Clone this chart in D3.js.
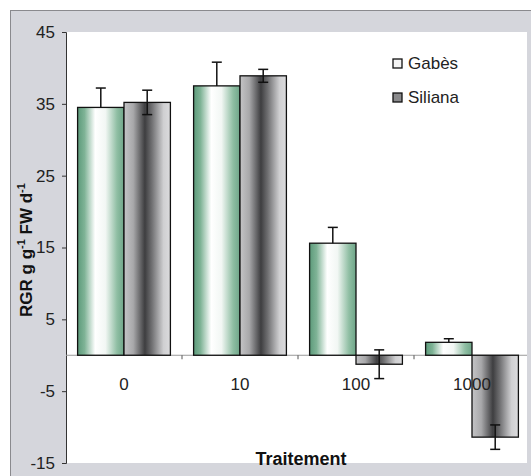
<!DOCTYPE html>
<html><head><meta charset="utf-8">
<script src="https://cdn.jsdelivr.net/npm/d3@7"></script>
<style>body{margin:0;background:#fff}svg{display:block}</style>
</head><body>
<script>
const categories = ["0", "10", "100", "1000"];
const seriesNames = ["Gabès", "Siliana"];
const gabes = [34.5, 37.5, 15.6, 1.8];
const gabesErr = [2.7, 3.3, 2.2, 0.5];
const siliana = [35.2, 38.9, -1.25, -11.4];
const silianaErr = [1.7, 0.9, 2.0, 1.7];
const yTicks = [45, 35, 25, 15, 5, -5, -15];

const W = 531, H = 476;
const plot = {l: 66, r: 527, t: 32, b: 463};
const svg = d3.select("body").append("svg").attr("width", W).attr("height", H);
const defs = svg.append("defs");
const gG = defs.append("linearGradient").attr("id", "gGab").attr("x1", "0").attr("x2", "1").attr("y1", "0").attr("y2", "0");
[[0, "#5c9a7a"], [0.15, "#7fb396"], [0.38, "#ffffff"], [0.6, "#f2f7f4"], [0.85, "#8fbea3"], [1, "#6ea588"]].forEach(s => gG.append("stop").attr("offset", s[0]).attr("stop-color", s[1]));
const gS = defs.append("linearGradient").attr("id", "gSil").attr("x1", "0").attr("x2", "1").attr("y1", "0").attr("y2", "0");
[[0, "#c4c4c6"], [0.2, "#a8a8aa"], [0.45, "#3e3e40"], [0.6, "#707072"], [0.85, "#cfcfd1"], [1, "#dcdcde"]].forEach(s => gS.append("stop").attr("offset", s[0]).attr("stop-color", s[1]));

// outer panel
svg.append("rect").attr("x", 10).attr("y", 10).attr("width", W - 10).attr("height", H - 10).attr("fill", "#d5d6dc");
svg.append("line").attr("x1", 10).attr("x2", W).attr("y1", 10.5).attr("y2", 10.5).attr("stroke", "#8a8a8e");
svg.append("line").attr("x1", 10.5).attr("x2", 10.5).attr("y1", 10).attr("y2", H).attr("stroke", "#8a8a8e");
svg.append("rect").attr("x", plot.l).attr("y", plot.t).attr("width", plot.r - plot.l).attr("height", plot.b - plot.t).attr("fill", "#fff");

const y = d3.scaleLinear().domain([-15, 45]).range([plot.b, plot.t]);
const x0 = d3.scaleBand().domain(categories).range([plot.l, 530]).paddingInner(0.2).paddingOuter(0.1);
const x1 = d3.scaleBand().domain(seriesNames).range([0, x0.bandwidth()]);

const data = categories.map((c, i) => ({c, vals: [
  {s: "Gabès", v: gabes[i], e: gabesErr[i], both: false, fill: "url(#gGab)"},
  {s: "Siliana", v: siliana[i], e: silianaErr[i], both: true, fill: "url(#gSil)"}]}));

// y axis
const yAxis = d3.axisLeft(y).tickValues(yTicks).tickSize(4).tickPadding(7).tickFormat(d => String(d));
const ya = svg.append("g").attr("transform", `translate(${plot.l},0)`).call(yAxis);
ya.select(".domain").attr("stroke", "#333");
ya.selectAll(".tick line").attr("stroke", "#333");
ya.selectAll("text").attr("font-family", "Liberation Sans, Arial, sans-serif").attr("font-size", 17).attr("fill", "#222");

// x axis at zero
svg.append("line").attr("x1", plot.l).attr("x2", plot.r).attr("y1", y(0)).attr("y2", y(0)).attr("stroke", "#999");
const step = x0.step();
categories.slice(1).forEach(c => {
  const xb = x0(c) - step * x0.paddingInner() / 2;
  svg.append("line").attr("x1", xb).attr("x2", xb).attr("y1", y(0)).attr("y2", y(0) + 4).attr("stroke", "#555");
});

const groups = svg.selectAll(".grp").data(data).enter().append("g").attr("transform", d => `translate(${x0(d.c)},0)`);
groups.selectAll("rect").data(d => d.vals).enter().append("rect")
  .attr("x", d => x1(d.s)).attr("width", x1.bandwidth())
  .attr("y", d => y(Math.max(0, d.v))).attr("height", d => Math.abs(y(d.v) - y(0)))
  .attr("fill", d => d.fill).attr("stroke", "#111").attr("stroke-width", 1.3);

// category labels
svg.selectAll(".cat").data(categories).enter().append("text")
  .attr("x", d => x0(d) + x0.bandwidth() / 2).attr("y", 390).attr("text-anchor", "middle")
  .attr("font-family", "Liberation Sans, Arial, sans-serif").attr("font-size", 17).attr("fill", "#222").text(d => d);

// error bars
groups.each(function(d) {
  const g = d3.select(this);
  d.vals.forEach(v => {
    const cx = x1(v.s) + x1.bandwidth() / 2;
    const top = v.v + v.e, bot = v.both ? v.v - v.e : v.v;
    g.append("line").attr("x1", cx).attr("x2", cx).attr("y1", y(top)).attr("y2", y(bot)).attr("stroke", "#111").attr("stroke-width", 1.5);
    g.append("line").attr("x1", cx - 5).attr("x2", cx + 5).attr("y1", y(top)).attr("y2", y(top)).attr("stroke", "#111").attr("stroke-width", 1.5);
    if (v.both) g.append("line").attr("x1", cx - 5).attr("x2", cx + 5).attr("y1", y(bot)).attr("y2", y(bot)).attr("stroke", "#111").attr("stroke-width", 1.5);
  });
});

// legend
const leg = svg.append("g");
seriesNames.forEach((s, i) => {
  leg.append("rect").attr("x", 393).attr("y", 59 + i * 34).attr("width", 9).attr("height", 9)
    .attr("fill", i === 0 ? "#f4f4f4" : "#8a8a8c").attr("stroke", "#111").attr("stroke-width", 1.3);
  leg.append("text").attr("x", 408).attr("y", 69 + i * 34).attr("font-family", "Liberation Sans, Arial, sans-serif")
    .attr("font-size", 17).attr("fill", "#222").text(s);
});

// axis titles
svg.append("text").attr("x", 301).attr("y", 465).attr("text-anchor", "middle")
  .attr("font-family", "Liberation Sans, Arial, sans-serif").attr("font-weight", "bold").attr("font-size", 18).attr("fill", "#111").text("Traitement");
const yt = svg.append("text").attr("transform", "translate(32,250) rotate(-90)").attr("text-anchor", "middle")
  .attr("font-family", "Liberation Sans, Arial, sans-serif").attr("font-weight", "bold").attr("font-size", 17).attr("fill", "#111");
yt.append("tspan").text("RGR g g");
yt.append("tspan").attr("font-size", 11).attr("dy", -7).text("-1");
yt.append("tspan").attr("dy", 7).text(" FW d");
yt.append("tspan").attr("font-size", 11).attr("dy", -7).text("-1");
</script>
</body></html>
